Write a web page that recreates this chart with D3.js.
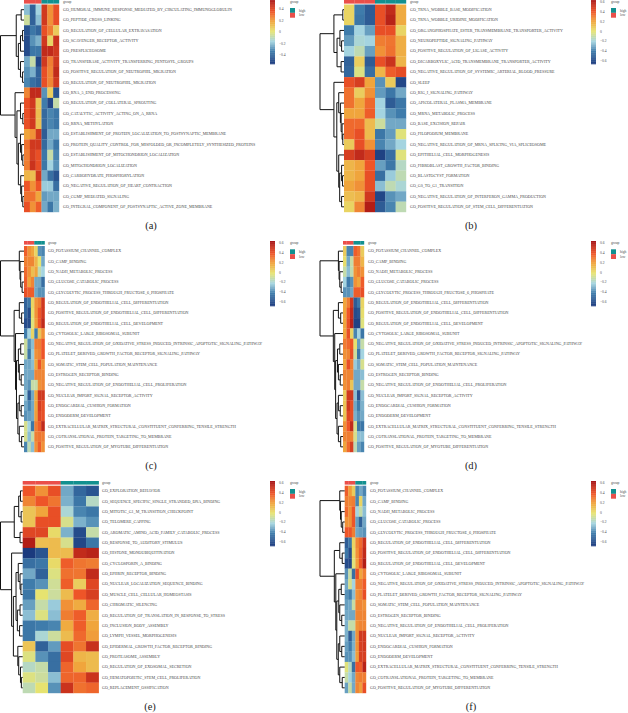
<!DOCTYPE html>
<html lang="en">
<head>
<meta charset="UTF-8">
<title>GO enrichment heatmaps</title>
<script src="https://d3js.org/d3.v7.min.js"></script>
<style>
    body, html { margin: 0; background: #fff; }
    svg { display: block; }
    text { font-family: "Liberation Serif", serif; fill: #4a4a4a; }
    .caption { font-size: 10.5px; fill: #222; text-anchor: middle; }
    .dendro path { fill: none; stroke: #111; stroke-width: 1px; }
</style>
</head>
<body>
<script>
    const groupNames = ["low", "low", "low", "high", "high", "high"];

    const labelsA = ["HUMORAL_IMMUNE_RESPONSE_MEDIATED_BY_CIRCULATING_IMMUNOGLOBULIN", "PEPTIDE_CROSS_LINKING", "REGULATION_OF_CELLULAR_EXTRAVASATION", "SCAVENGER_RECEPTOR_ACTIVITY", "PRESPLICEOSOME", "TRANSFERASE_ACTIVITY_TRANSFERRING_PENTOSYL_GROUPS", "POSITIVE_REGULATION_OF_NEUTROPHIL_MIGRATION", "REGULATION_OF_NEUTROPHIL_MIGRATION", "RNA_5_END_PROCESSING", "REGULATION_OF_COLLATERAL_SPROUTING", "CATALYTIC_ACTIVITY_ACTING_ON_A_RRNA", "RRNA_METHYLATION", "ESTABLISHMENT_OF_PROTEIN_LOCALIZATION_TO_POSTSYNAPTIC_MEMBRANE", "PROTEIN_QUALITY_CONTROL_FOR_MISFOLDED_OR_INCOMPLETELY_SYNTHESIZED_PROTEINS", "ESTABLISHMENT_OF_MITOCHONDRION_LOCALIZATION", "MITOCHONDRION_LOCALIZATION", "CARBOHYDRATE_PHOSPHORYLATION", "NEGATIVE_REGULATION_OF_HEART_CONTRACTION", "CGMP_MEDIATED_SIGNALING", "INTEGRAL_COMPONENT_OF_POSTSYNAPTIC_ACTIVE_ZONE_MEMBRANE"];
    const valuesA = [
        [-.25, -.5, -.2, .5, .25, .42], [-.08, -.5, -.25, .5, .25, .42], [-.55, -.42, -.48, .42, .3, .08], [-.58, -.35, -.28, .5, .05, .52],
        [-.58, -.42, -.42, .55, .55, .5], [-.3, -.1, -.6, .5, .3, .5], [-.35, -.28, -.5, .42, .28, .55], [-.38, -.45, -.5, .42, .28, .5],
        [.28, .55, .55, -.35, .07, -.55], [.42, .5, .1, -.4, -.6, -.1], [.42, .5, .12, -.47, -.38, -.42], [.42, .5, .12, -.47, -.38, -.42],
        [.2, .25, .5, -.52, -.3, -.3], [.33, .5, .5, -.47, -.3, -.42], [.3, .48, .42, -.42, -.1, -.38], [.3, .52, .42, -.42, -.2, -.35],
        [.15, .12, .5, -.3, -.45, -.55], [.4, .25, .4, -.22, -.22, -.45], [.33, .33, .2, -.33, -.3, -.3], [.42, .25, .38, -.3, -.42, -.28]
    ];
    const treeA = [1, [.33, [.12, 0, 1], [.24, [.15, [.06, 2, 3], 4], [.15, 5, [.06, 6, 7]]]], [.38, 8, [.3, [.15, 9, [.05, 10, 11]], [.24, [.15, 12, [.1, 13, [.05, 14, 15]]], [.14, 16, [.1, 17, [.05, 18, 19]]]]]]];

    const labelsB = ["TRNA_WOBBLE_BASE_MODIFICATION", "TRNA_WOBBLE_URIDINE_MODIFICATION", "ORGANOPHOSPHATE_ESTER_TRANSMEMBRANE_TRANSPORTER_ACTIVITY", "NEUROPEPTIDE_SIGNALING_PATHWAY", "POSITIVE_REGULATION_OF_LIGASE_ACTIVITY", "DICARBOXYLIC_ACID_TRANSMEMBRANE_TRANSPORTER_ACTIVITY", "NEGATIVE_REGULATION_OF_SYSTEMIC_ARTERIAL_BLOOD_PRESSURE", "SLEEP", "RIG_I_SIGNALING_PATHWAY", "APICOLATERAL_PLASMA_MEMBRANE", "MRNA_METABOLIC_PROCESS", "BASE_EXCISION_REPAIR", "FILOPODIUM_MEMBRANE", "NEGATIVE_REGULATION_OF_MRNA_SPLICING_VIA_SPLICEOSOME", "EPITHELIAL_CELL_MORPHOGENESIS", "FIBROBLAST_GROWTH_FACTOR_BINDING", "BLASTOCYST_FORMATION", "G0_TO_G1_TRANSITION", "NEGATIVE_REGULATION_OF_INTERFERON_GAMMA_PRODUCTION", "POSITIVE_REGULATION_OF_STEM_CELL_DIFFERENTIATION"];
    const valuesB = [
        [.05, -.4, -.52, .42, .55, .18], [.05, -.42, -.52, .42, .58, .18], [-.4, -.2, -.32, .42, .42, .05], [-.33, -.18, -.2, .3, .32, .17],
        [-.2, -.12, -.32, .25, .33, .17], [-.5, .07, -.52, .42, .52, .15], [-.48, -.03, -.45, .15, .38, .43], [.42, .48, .2, -.35, .08, -.6],
        [.33, .07, .25, -.33, -.42, -.3], [.33, .2, .35, -.2, -.52, -.42], [.2, .2, .38, -.2, -.35, -.4], [.35, .35, .13, -.08, -.3, -.3],
        [.35, .42, .13, -.42, -.33, -.02], [.08, .42, .25, -.38, -.3, -.2], [.48, .55, .48, -.62, -.45, -.02], [.15, .2, .4, -.32, -.42, -.15],
        [.15, .2, .42, -.45, -.22, -.12], [.2, .25, .42, -.25, -.12, -.18], [.12, .15, .5, -.6, -.35, -.3], [.05, .28, .6, -.52, -.38, -.12]
    ];
    const treeB = [1, [.42, [.05, 0, 1], [.29, [.17, 2, [.1, 3, 4]], [.12, 5, 6]]], [.42, 7, [.3, [.22, 8, [.15, 9, [.12, 10, [.08, 11, [.05, 12, 13]]]]], [.22, 14, [.18, [.1, 15, [.06, 16, 17]], [.1, 18, 19]]]]]];

    // c, d and f share the same gene sets
    const labelsShared = ["POTASSIUM_CHANNEL_COMPLEX", "CAMP_BINDING", "NADH_METABOLIC_PROCESS", "GLUCOSE_CATABOLIC_PROCESS", "GLYCOLYTIC_PROCESS_THROUGH_FRUCTOSE_6_PHOSPHATE", "REGULATION_OF_ENDOTHELIAL_CELL_DIFFERENTIATION", "POSITIVE_REGULATION_OF_ENDOTHELIAL_CELL_DIFFERENTIATION", "REGULATION_OF_ENDOTHELIAL_CELL_DEVELOPMENT", "CYTOSOLIC_LARGE_RIBOSOMAL_SUBUNIT", "NEGATIVE_REGULATION_OF_OXIDATIVE_STRESS_INDUCED_INTRINSIC_APOPTOTIC_SIGNALING_PATHWAY", "PLATELET_DERIVED_GROWTH_FACTOR_RECEPTOR_SIGNALING_PATHWAY", "SOMATIC_STEM_CELL_POPULATION_MAINTENANCE", "ESTROGEN_RECEPTOR_BINDING", "NEGATIVE_REGULATION_OF_ENDOTHELIAL_CELL_PROLIFERATION", "NUCLEAR_IMPORT_SIGNAL_RECEPTOR_ACTIVITY", "ENDOCARDIAL_CUSHION_FORMATION", "ENDODERM_DEVELOPMENT", "EXTRACELLULAR_MATRIX_STRUCTURAL_CONSTITUENT_CONFERRING_TENSILE_STRENGTH", "COTRANSLATIONAL_PROTEIN_TARGETING_TO_MEMBRANE", "POSITIVE_REGULATION_OF_MYOTUBE_DIFFERENTIATION"];
    const treeShared = [1, [.2, 0, [.17, 1, [.14, 2, [.08, 3, 4]]]], [.42, [.2, 5, [.1, 6, 7]], [.36, 8, [.32, [.24, [.14, 9, 10], [.2, 11, [.12, 12, 13]]], [.26, [.2, 14, [.12, 15, 16]], [.2, 17, [.1, 18, 19]]]]]]];
    const valuesC = [
        [.38, .25, .2, .05, -.35, -.38], [.3, .28, .28, .15, 0, -.3], [.35, .25, .12, .2, -.12, -.2], [.38, .2, .28, -.3, -.3, -.45],
        [.42, .38, .38, -.3, -.35, -.35], [-.5, -.42, .05, .25, .3, .5], [-.48, -.58, .02, .25, .4, .5], [-.58, -.58, -.02, .22, .4, .55],
        [-.4, -.2, .05, -.4, .1, .25], [-.08, -.35, -.25, .3, .3, .4], [-.1, -.42, -.22, .25, .28, .4], [-.3, -.3, -.25, .2, .4, .25],
        [-.3, -.3, -.3, .28, .28, .28], [-.3, -.35, -.1, -.1, .25, .28], [-.22, -.52, -.3, .2, .5, .5], [-.3, -.38, -.3, .2, .48, .42],
        [-.35, -.32, -.3, .22, .45, .42], [-.05, -.2, -.42, .3, .38, .55], [-.05, -.25, -.1, .3, .32, .3], [-.38, -.12, -.25, .25, .38, .25]
    ];
    const valuesD = [
        [.08, -.38, -.38, .38, .33, .08], [.02, -.3, -.1, .3, .3, .15], [-.1, -.25, -.12, .25, .3, .25], [-.2, -.4, -.35, .25, .2, .38],
        [-.35, -.35, -.3, .38, .38, .42], [.2, .3, .5, -.52, -.42, .05], [.2, .4, .55, -.58, -.55, .02], [.2, .42, .58, -.62, -.62, -.02],
        [.2, .42, .05, -.38, -.2, -.42], [.3, .35, .4, 0, -.32, -.1], [.25, .28, .42, -.08, -.42, -.2], [.2, .42, .3, -.22, -.3, -.05],
        [.28, .28, .28, -.3, -.3, -.25], [.25, .3, .1, -.3, -.3, -.1], [.08, .5, .5, -.25, -.55, -.25], [.1, .5, .42, -.3, -.4, -.28],
        [.1, .45, .42, -.28, -.35, -.3], [.25, .4, .55, -.05, -.42, -.42], [.28, .3, .28, -.05, -.25, -.25], [.2, .35, .48, -.12, -.32, -.38]
    ];
    const valuesF = [
        [.38, .22, .08, -.38, -.3, -.38], [.3, .28, .3, -.38, .05, -.3], [.35, .25, .4, -.2, -.1, -.25], [.25, .25, .4, -.32, -.5, -.3],
        [.4, .4, .3, -.3, -.32, -.35], [-.52, -.42, .05, .28, .35, .52], [-.42, -.58, .02, .25, .38, .55], [-.58, -.6, -.02, .22, .4, .6],
        [-.35, -.1, -.45, .42, .2, .3], [-.3, -.05, -.2, .3, .3, .38], [-.35, -.4, -.25, .25, .28, .42], [-.32, -.3, -.1, .28, .28, .25],
        [-.3, -.3, -.3, .28, .28, .28], [-.28, -.1, -.1, .25, .28, .28], [-.28, -.52, -.3, .25, .5, .5], [-.32, -.4, -.28, .25, .48, .5],
        [-.35, -.35, -.25, .22, .48, .48], [-.02, -.15, -.45, .4, .38, .58], [-.1, -.2, -.3, .28, .3, .3], [-.32, -.1, -.3, .28, .22, .42]
    ];

    const labelsE = ["EXPLORATION_BEHAVIOR", "SEQUENCE_SPECIFIC_SINGLE_STRANDED_DNA_BINDING", "MITOTIC_G1_M_TRANSITION_CHECKPOINT", "TELOMERE_CAPPING", "AROMATIC_AMINO_ACID_FAMILY_CATABOLIC_PROCESS", "RESPONSE_TO_AUDITORY_STIMULUS", "HISTONE_MONOUBIQUITINATION", "CYCLOSPORIN_A_BINDING", "EPHRIN_RECEPTOR_BINDING", "NUCLEAR_LOCALIZATION_SEQUENCE_BINDING", "MUSCLE_CELL_CELLULAR_HOMEOSTASIS", "CHROMATIC_SILENCING", "REGULATION_OF_TRANSLATION_IN_RESPONSE_TO_STRESS", "INCLUSION_BODY_ASSEMBLY", "LYMPH_VESSEL_MORPHOGENESIS", "EPIDERMAL_GROWTH_FACTOR_RECEPTOR_BINDING", "PROTEASOME_ASSEMBLY", "REGULATION_OF_EXOSOMAL_SECRETION", "HEMATOPOIETIC_STEM_CELL_PROLIFERATION", "REPLACEMENT_OSSIFICATION"];
    const valuesE = [
        [.4, .25, .42, -.3, -.48, -.55], [.28, .4, .32, -.28, -.42, -.15], [.1, .2, .42, -.18, -.38, -.42], [.1, .42, .42, -.05, -.28, -.35],
        [.45, .45, .03, -.28, -.58, -.1], [.6, .12, .13, -.05, -.6, -.42], [-.65, -.55, .13, .13, .55, .58], [-.45, -.42, .03, .38, .32, .3],
        [-.3, -.5, -.03, .33, .32, .55], [-.4, -.35, -.07, .38, .07, .45], [-.42, 0, -.08, .13, .4, .48], [-.32, -.1, -.22, .25, .18, .36],
        [-.25, -.03, -.25, .3, .38, .17], [-.42, -.4, -.38, .18, .38, .2], [-.42, -.18, -.08, .13, .35, .22], [.1, -.5, -.33, .43, .32, .53],
        [-.03, -.35, -.45, .45, .15, .13], [-.15, -.1, -.45, .36, .2, .13], [-.03, -.08, -.25, .36, .36, .52], [-.12, 0, -.35, .52, .33, .36]
    ];
    const treeE = [1, [.38, [.18, [.1, 0, 1], [.07, 2, 3]], [.12, 4, 5]], [.5, 6, [.42, [.3, [.2, 7, [.12, 8, [.08, 9, 10]]], [.24, [.12, 11, 12], [.14, 13, 14]]], [.22, 15, [.18, 16, [.1, 17, [.06, 18, 19]]]]]]];

    const ticksAB = [.4, .2, 0, -.2, -.4];
    const ticksFull = [.6, .4, .2, 0, -.2, -.4, -.6];

    const width = 628, height = 713;
    const svg = d3.select("body").append("svg").attr("width", width).attr("height", height);

    const color = d3.scaleLinear()
        .domain([-.65, -.4, -.2, 0, .2, .4, .65])
        .range(["#1b3a7e", "#3f7cab", "#a4d4e0", "#e6e370", "#f0a53c", "#ee5528", "#a30f12"]);
    const groupColor = d3.scaleOrdinal(["low", "high"], ["#ea4f4a", "#12908f"]);

    const panels = [
        {name: "(a)", labels: labelsA, values: valuesA, tree: treeA, ticks: ticksAB, treeX: 0.5, x0: 24, x1: 59, barTop: 0, y0: 4.5, y1: 212, labelX: 63, cbX: 270, cbY0: -1, cbY1: 64, cbZero: 32, cbUnit: 58, legX: 290, legT: 2, legY: 8, capX: 151, capY: 229},
        {name: "(b)", labels: labelsB, values: valuesB, tree: treeB, ticks: ticksFull, treeX: 320, x0: 344, x1: 406, barTop: 0, y0: 4.5, y1: 212, labelX: 410, cbX: 591, cbY0: -1, cbY1: 64, cbZero: 31.3, cbUnit: 48.8, legX: 611, legT: 2, legY: 8, capX: 471, capY: 229},
        {name: "(c)", labels: labelsShared, values: valuesC, tree: treeShared, ticks: ticksFull, treeX: 0.5, x0: 24, x1: 44.6, barTop: 241, y0: 246, y1: 452, labelX: 48, cbX: 270, cbY0: 241, cbY1: 306, cbZero: 272.5, cbUnit: 48.7, legX: 290, legT: 243, legY: 249.3, capX: 151, capY: 469},
        {name: "(d)", labels: labelsShared, values: valuesD, tree: treeShared, ticks: ticksFull, treeX: 320, x0: 343, x1: 364, barTop: 241, y0: 246, y1: 452, labelX: 368, cbX: 591, cbY0: 241, cbY1: 306, cbZero: 272.5, cbUnit: 48.7, legX: 611, legT: 243, legY: 249.3, capX: 471, capY: 469},
        {name: "(e)", labels: labelsE, values: valuesE, tree: treeE, ticks: ticksFull, treeX: 0.5, x0: 22.7, x1: 98.7, barTop: 481, y0: 485.7, y1: 693, labelX: 102, cbX: 270, cbY0: 481, cbY1: 546, cbZero: 512.5, cbUnit: 48.7, legX: 290, legT: 482.7, legY: 489, capX: 150, capY: 710},
        {name: "(f)", labels: labelsShared, values: valuesF, tree: treeShared, ticks: ticksFull, treeX: 320, x0: 344.7, x1: 366, barTop: 481, y0: 485.7, y1: 693, labelX: 370, cbX: 591, cbY0: 481, cbY1: 546, cbZero: 512.5, cbUnit: 48.7, legX: 611, legT: 482.7, legY: 489, capX: 471, capY: 710}
    ];

    // tree nodes are [height, left, right], leaves are row numbers
    function drawDendrogram(g, p, y) {
        const root = d3.hierarchy(p.tree, d => Array.isArray(d) ? d.slice(1) : null);
        const x = d3.scaleLinear().domain([0, 1]).range([p.x0, p.treeX]);
        root.eachAfter(n => {
            n.py = n.children ? d3.mean(n.children, c => c.py) : y(n.data) + y.bandwidth() / 2;
            n.px = n.children ? x(n.data[0]) : p.x0;
        });
        g.append("g").attr("class", "dendro").selectAll("path")
            .data(root.descendants().filter(n => n.children))
            .join("path")
            .attr("d", n => {
                const [a, b] = n.children;
                return `M${a.px},${a.py}H${n.px}V${b.py}H${b.px}`;
            });
    }

    function drawColorbar(g, p) {
        const steps = d3.range(100);
        const toPalette = d3.scaleLinear().domain([99, 0]).range([-.65, .65]);
        const y = d3.scaleLinear().domain([0, 1]).range([p.cbZero, p.cbZero - p.cbUnit]);
        const band = d3.scaleBand().domain(steps).range([p.cbY0, p.cbY1]);
        g.selectAll(".strip").data(steps).join("rect").attr("class", "strip")
            .attr("x", p.cbX).attr("width", 5)
            .attr("y", d => band(d)).attr("height", band.bandwidth() + 0.3)
            .attr("fill", d => color(toPalette(d)));
        g.selectAll(".tick").data(p.ticks).join("text").attr("class", "tick")
            .attr("x", p.cbX + 9).attr("y", d => y(d) + 1.2)
            .style("font-size", "3.6px")
            .text(d => d3.format("")(d));
    }

    function drawLegend(g, p) {
        g.append("text").attr("x", p.legX).attr("y", p.legT + 1.2).style("font-size", "3.6px").text("group");
        const y = d3.scaleBand().domain(["high", "low"]).range([p.legY, p.legY + 9.7]);
        g.selectAll(".swatch").data(y.domain()).join("rect").attr("class", "swatch")
            .attr("x", p.legX).attr("width", 5)
            .attr("y", d => y(d)).attr("height", y.bandwidth())
            .attr("fill", d => groupColor(d));
        g.selectAll(".legend-label").data(y.domain()).join("text").attr("class", "legend-label")
            .attr("x", p.legX + 9).attr("y", d => y(d) + y.bandwidth() / 2 + 1.2)
            .style("font-size", "3.6px")
            .text(d => d);
    }

    panels.forEach(p => {
        const g = svg.append("g");
        const x = d3.scaleBand().domain(d3.range(6)).range([p.x0, p.x1]);
        const y = d3.scaleBand().domain(d3.range(p.labels.length)).range([p.y0, p.y1]);

        g.selectAll(".group-cell").data(groupNames).join("rect").attr("class", "group-cell")
            .attr("x", (d, i) => x(i)).attr("width", x.bandwidth() + 0.2)
            .attr("y", p.barTop).attr("height", 3.6)
            .attr("fill", d => groupColor(d));
        g.append("text").attr("x", p.labelX).attr("y", p.barTop + 2.6)
            .style("font-size", "3.6px").text("group");

        g.selectAll(".row").data(p.values).join("g").attr("class", "row")
            .attr("transform", (d, i) => `translate(0,${y(i)})`)
            .selectAll("rect").data(d => d).join("rect")
            .attr("x", (d, i) => x(i)).attr("width", x.bandwidth() + 0.2)
            .attr("height", y.bandwidth() + 0.2)
            .attr("fill", d => color(d));

        g.selectAll(".row-label").data(p.labels).join("text").attr("class", "row-label")
            .attr("x", p.labelX).attr("y", (d, i) => y(i) + y.bandwidth() / 2 + 1.3)
            .style("font-size", "4.05px")
            .text(d => "GO_" + d);

        drawDendrogram(g, p, y);
        drawColorbar(g, p);
        drawLegend(g, p);

        g.append("text").attr("class", "caption").attr("x", p.capX).attr("y", p.capY).text(p.name);
    });
</script>
</body>
</html>
